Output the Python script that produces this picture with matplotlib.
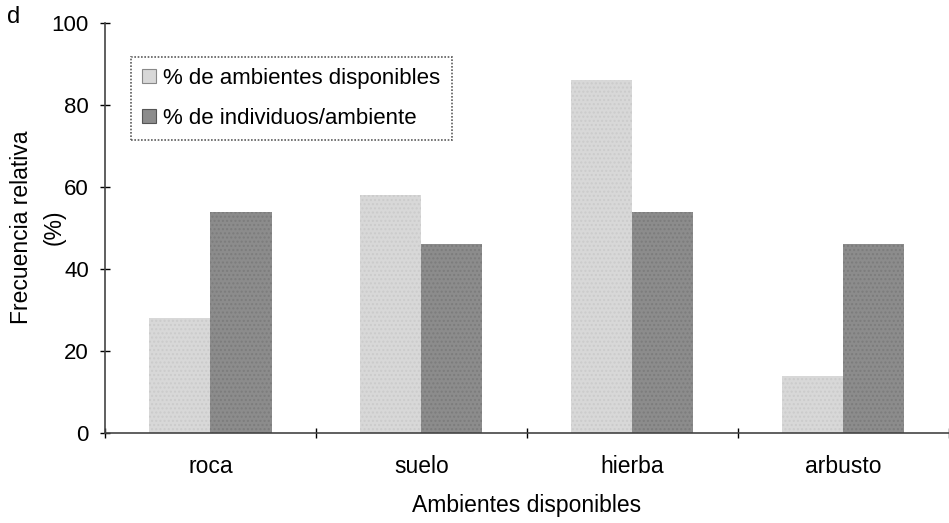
import numpy as np
import matplotlib.pyplot as plt
from matplotlib.patches import Patch

categories = ['roca', 'suelo', 'hierba', 'arbusto']
disponibles = [28, 58, 86, 14]
individuos = [54, 46, 54, 46]
series_labels = ['% de ambientes disponibles', '% de individuos/ambiente']

plt.rcParams['font.family'] = ['Liberation Sans', 'DejaVu Sans']

fig = plt.figure(figsize=(9.49, 5.23), dpi=100)
ax = fig.add_axes([0.1106, 0.172, 0.889, 0.784])

x = np.arange(len(categories))
w = 0.29
light = '#d8d8d8'
dark = '#8c8c8c'
ax.bar(x - w / 2, disponibles, w, color=light, edgecolor='#cbcbcb', hatch='....', linewidth=0)
ax.bar(x + w / 2, individuos, w, color=dark, edgecolor='#7c7c7c', hatch='....', linewidth=0)

ax.set_xlim(-0.5, 3.45)
ax.set_ylim(0, 100)
ax.set_yticks([0, 20, 40, 60, 80, 100])
ax.set_xticks(x)
ax.set_xticklabels(categories)
ax.set_xticks(np.arange(-0.5, 4, 1), minor=True)
ax.tick_params(axis='x', which='major', length=0, pad=16, labelsize=16.5)
ax.tick_params(axis='x', which='minor', direction='inout', length=7, width=1)
ax.tick_params(axis='y', direction='inout', length=7, width=1, pad=8, labelsize=16)

for s in ['top', 'right']:
    ax.spines[s].set_visible(False)
for s in ['left', 'bottom']:
    ax.spines[s].set_color('#444444')
    ax.spines[s].set_linewidth(1.2)

ax.set_xlabel('Ambientes disponibles', fontsize=16.5, labelpad=11)

# y label as two separate rotated lines
fig.text(22 / 949, 1 - 227 / 523, 'Frecuencia relativa', rotation=90,
         fontsize=16.5, ha='center', va='center')
fig.text(54 / 949, 1 - 227 / 523, '(%)', rotation=90,
         fontsize=16.5, ha='center', va='center')

handles = [Patch(facecolor=light, edgecolor='#888888', linewidth=0.8),
           Patch(facecolor=dark, edgecolor='#555555', linewidth=0.8)]
leg = ax.legend(handles, series_labels, loc='upper left', bbox_to_anchor=(0.031, 0.917),
                fontsize=16, frameon=True, fancybox=False, handlelength=0.6,
                handleheight=0.6, handletextpad=0.35, borderpad=0.5, labelspacing=0.85,
                borderaxespad=0)
leg.get_frame().set_edgecolor('#333333')
leg.get_frame().set_linestyle((0, (1, 1)))
leg.get_frame().set_linewidth(1.2)

fig.text(14 / 949, 1 - 17 / 523, 'd', fontsize=17, va='center', ha='center')

fig.savefig('out.png', dpi=100)
